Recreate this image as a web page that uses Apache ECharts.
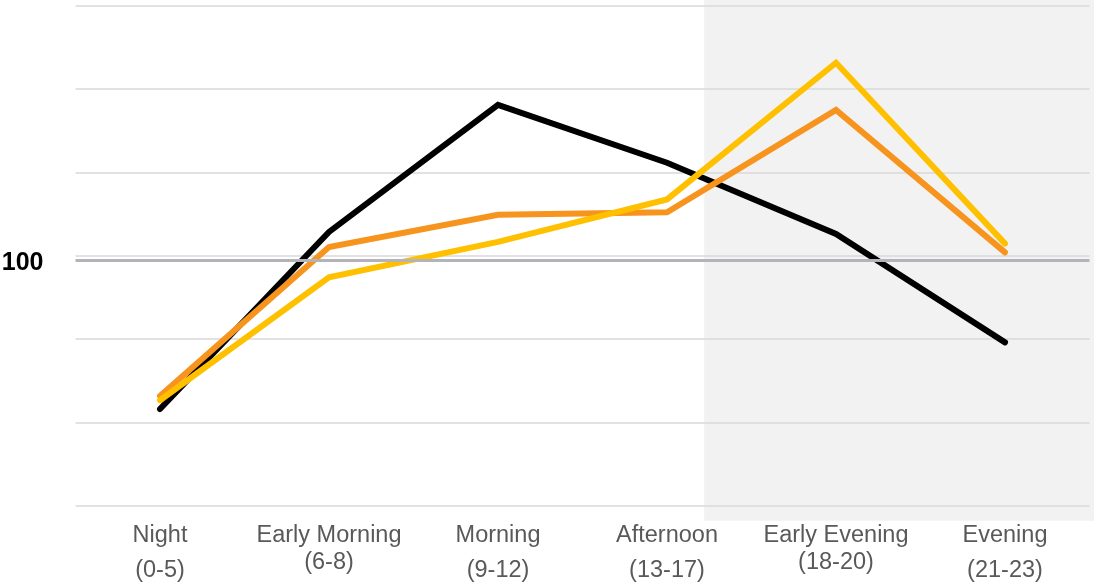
<!DOCTYPE html>
<html>
<head>
<meta charset="utf-8">
<script src="https://cdn.jsdelivr.net/npm/echarts@6/dist/echarts.min.js"></script>
<style>
  html, body { margin: 0; padding: 0; background: #ffffff; }
  #chart { width: 1094px; height: 586px; }
</style>
</head>
<body>
<div id="chart"></div>
<script>
// Time-of-day periods and their hour ranges
const periods = ['Night', 'Early Morning', 'Morning', 'Afternoon', 'Early Evening', 'Evening'];
const hourRanges = ['(0-5)', '(6-8)', '(9-12)', '(13-17)', '(18-20)', '(21-23)'];

// Index values per period (100 = average)
const seriesBlack = [64.3, 106.8, 137.3, 123.4, 106.3, 80.3];
const seriesOrange = [67.4, 103.2, 110.9, 111.5, 136.1, 101.9];
const seriesYellow = [66.4, 95.9, 104.4, 114.6, 147.4, 104.0];

// Reference level
const baselineValue = 100;
const baselineLabel = '100';

const FONT = '"Liberation Sans", Arial, Helvetica, sans-serif';
const chart = echarts.init(document.getElementById('chart'), null, { renderer: 'canvas' });

function lineSeries(name, data, color) {
  return {
    name: name,
    type: 'line',
    data: data,
    yAxisIndex: 0,
    symbol: 'none',
    smooth: false,
    silent: true,
    lineStyle: { color: color, width: 6, cap: 'round', join: 'miter' },
    z: 3
  };
}

chart.setOption({
  animation: false,
  backgroundColor: '#ffffff',
  grid: { left: 75.5, right: 4.5, top: 5.7, height: 500, containLabel: false },
  xAxis: {
    type: 'category',
    data: periods,
    boundaryGap: true,
    axisLine: { show: false },
    axisTick: { show: false },
    splitLine: { show: false },
    axisLabel: {
      interval: 0,
      margin: 15,
      verticalAlign: 'top',
      formatter: function (value, idx) {
        // two-word period names sit with a tighter second line
        const second = value.indexOf(' ') >= 0 ? 'b' : 'c';
        return '{a|' + value + '}\n{' + second + '|' + hourRanges[idx] + '}';
      },
      rich: {
        a: { fontFamily: FONT, fontSize: 23.5, color: '#595959', lineHeight: 29, align: 'center' },
        b: { fontFamily: FONT, fontSize: 23.5, color: '#595959', lineHeight: 26, align: 'center' },
        c: { fontFamily: FONT, fontSize: 23.5, color: '#595959', lineHeight: 42, align: 'center' }
      }
    }
  },
  yAxis: [
    {
      // value scale for the series (100 sits slightly below the middle guide line)
      type: 'value',
      min: 41.1,
      max: 161.1,
      axisLine: { show: false },
      axisTick: { show: false },
      axisLabel: { show: false },
      splitLine: { show: false }
    },
    {
      // evenly spaced horizontal guide lines
      type: 'value',
      min: 0,
      max: 6,
      interval: 1,
      axisLine: { show: false },
      axisTick: { show: false },
      axisLabel: { show: false },
      splitLine: { show: true, lineStyle: { color: '#d9d9d9', width: 1.5 } }
    }
  ],
  series: [
    lineSeries('Black', seriesBlack, '#000000'),
    lineSeries('Orange', seriesOrange, '#f7941d'),
    lineSeries('Yellow', seriesYellow, '#ffc000'),
    {
      name: 'Baseline',
      type: 'line',
      data: [],
      yAxisIndex: 0,
      z: 10,
      silent: true,
      markLine: {
        silent: true,
        symbol: ['none', 'none'],
        animation: false,
        lineStyle: { color: '#b3b3b9', width: 3, type: 'solid' },
        label: {
          show: true,
          position: 'start',
          distance: 32,
          formatter: '{v|' + baselineLabel + '}',
          rich: {
            v: {
              fontFamily: FONT,
              fontSize: 25,
              fontWeight: 'bold',
              color: '#000000',
              lineHeight: 30,
              padding: [6, 0, 0, 0]
            }
          }
        },
        data: [{ yAxis: baselineValue }]
      }
    }
  ]
});

// Shaded evening region, placed relative to the category positions
const pAfternoon = chart.convertToPixel({ xAxisIndex: 0 }, 3);
const pEarlyEvening = chart.convertToPixel({ xAxisIndex: 0 }, 4);
const shadeLeft = pAfternoon + 0.22 * (pEarlyEvening - pAfternoon);
const gridBottom = chart.convertToPixel({ yAxisIndex: 1 }, 0);
chart.setOption({
  graphic: [{
    type: 'rect',
    z: -10,
    silent: true,
    shape: { x: shadeLeft, y: 0, width: chart.getWidth() - shadeLeft, height: gridBottom + 15 },
    style: { fill: '#f2f2f2' }
  }]
});
</script>
</body>
</html>
